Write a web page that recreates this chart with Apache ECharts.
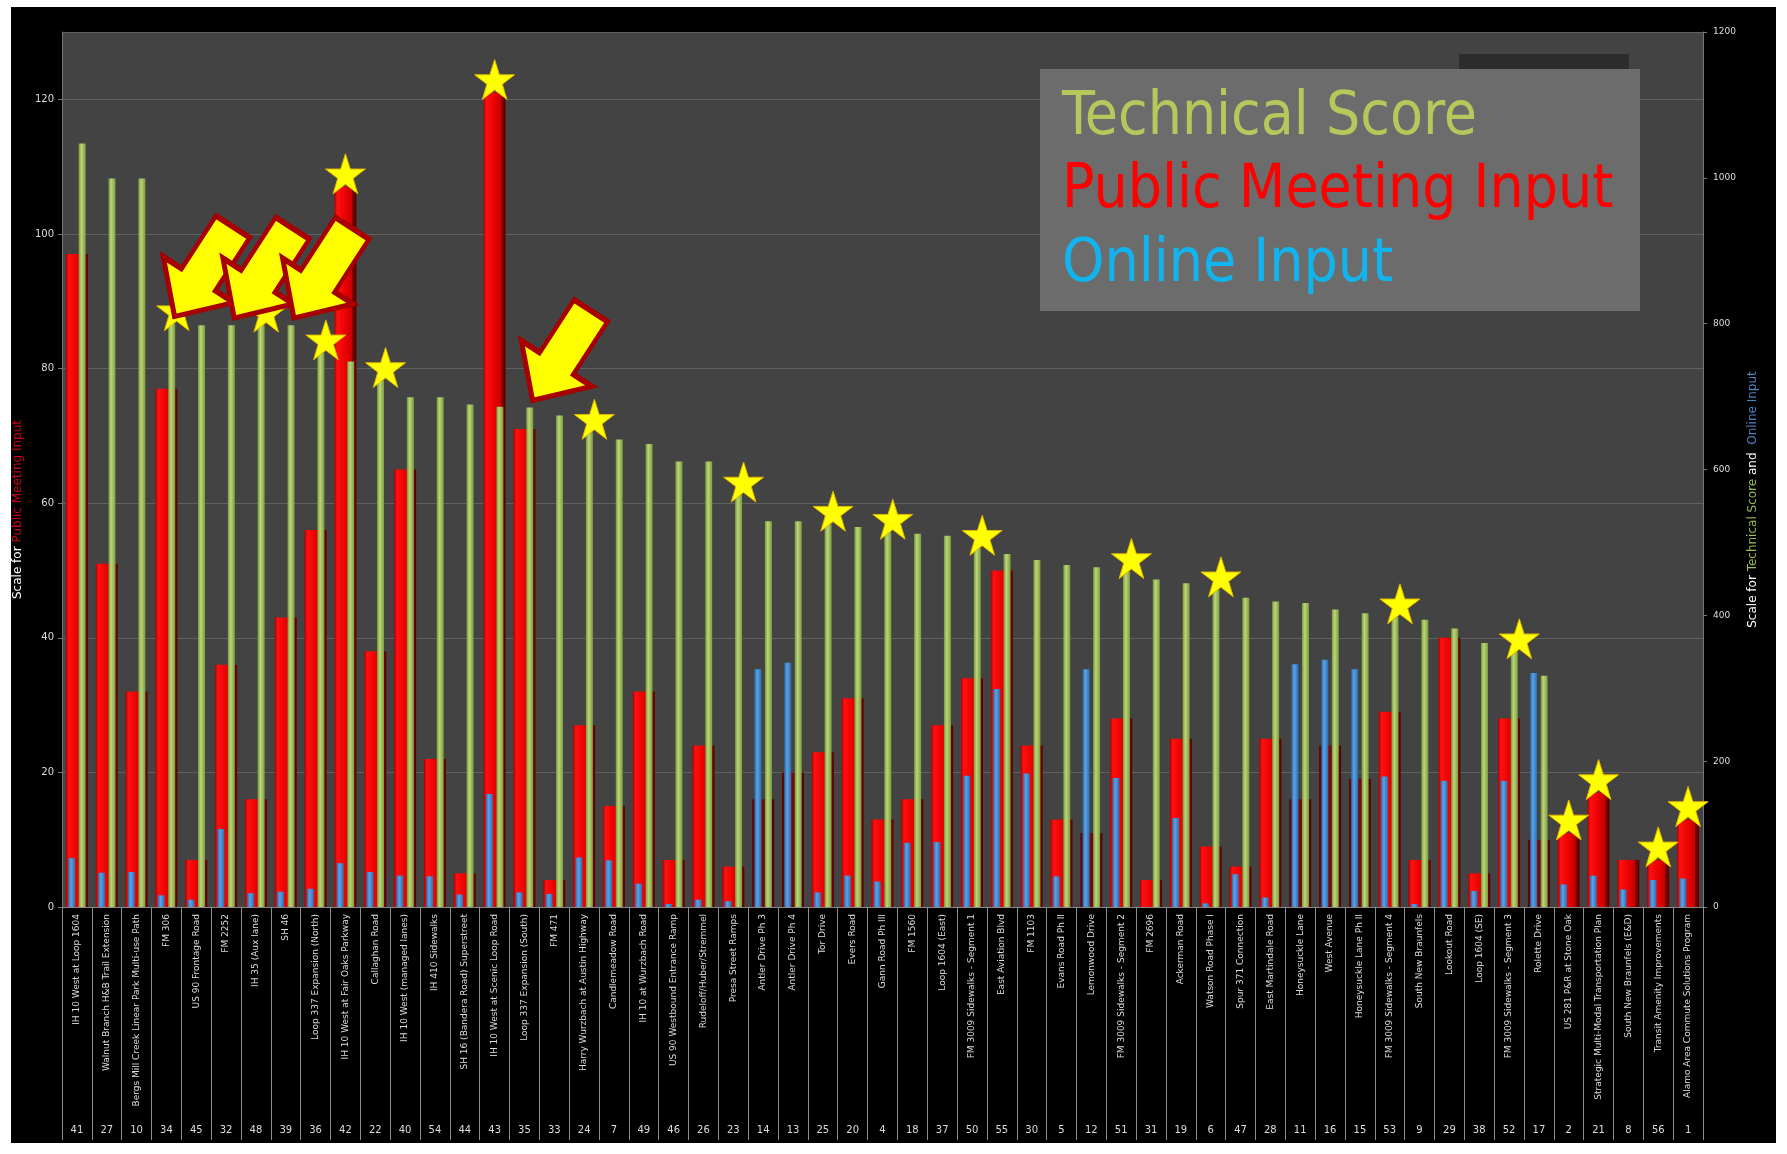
<!DOCTYPE html>
<html>
<head>
<meta charset="utf-8">
<title>Project ranking - technical score and public input</title>
<script src="https://cdn.jsdelivr.net/npm/echarts@6/dist/echarts.min.js"></script>
<style>
  html, body { margin: 0; padding: 0; background: #fff; }
  #chart { width: 1787px; height: 1154px; }
</style>
</head>
<body>
<div id="chart"></div>
<script>
// projects, in the order they are plotted
const categories = [
  'IH 10 West at Loop 1604', 'Walnut Branch H&B Trail Extension', 'Bergs Mill Creek Linear Park Multi-use Path',
  'FM 306', 'US 90 Frontage Road', 'FM 2252', 'IH 35 (Aux lane)', 'SH 46', 'Loop 337 Expansion (North)',
  'IH 10 West at Fair Oaks Parkway', 'Callaghan Road', 'IH 10 West (managed lanes)', 'IH 410 Sidewalks',
  'SH 16 (Bandera Road) Superstreet', 'IH 10 West at Scenic Loop Road', 'Loop 337 Expansion (South)', 'FM 471',
  'Harry Wurzbach at Austin Highway', 'Candlemeadow Road', 'IH 10 at Wurzbach Road', 'US 90 Westbound Entrance Ramp',
  'Rudeloff/Huber/Stremmel', 'Presa Street Ramps', 'Antler Drive Ph 3', 'Antler Drive Ph 4', 'Tor Drive',
  'Evers Road', 'Gann Road Ph III', 'FM 1560', 'Loop 1604 (East)', 'FM 3009 Sidewalks - Segment 1',
  'East Aviation Blvd', 'FM 1103', 'Evans Road Ph II', 'Lemonwood Drive', 'FM 3009 Sidewalks - Segment 2',
  'FM 2696', 'Ackerman Road', 'Watson Road Phase I', 'Spur 371 Connection', 'East Martindale Road',
  'Honeysuckle Lane', 'West Avenue', 'Honeysuckle Lane Ph II', 'FM 3009 Sidewalks - Segment 4',
  'South New Braunfels', 'Lookout Road', 'Loop 1604 (SE)', 'FM 3009 Sidewalks - Segment 3', 'Rolette Drive',
  'US 281 P&R at Stone Oak', 'Strategic Multi-Modal Transportation Plan', 'South New Braunfels (E&D)',
  'Transit Amenity Improvements', 'Alamo Area Commute Solutions Program'
]
const ranks = [
  '41', '27', '10', '34', '45', '32', '48', '39', '36', '42', '22', '40', '54', '44', '43', '35', '33', '24', '7',
  '49', '46', '26', '23', '14', '13', '25', '20', '4', '18', '37', '50', '55', '30', '5', '12', '51', '31', '19',
  '6', '47', '28', '11', '16', '15', '53', '9', '29', '38', '52', '17', '2', '21', '8', '56', '1'
]

// right axis
const technicalScore = [
  1047, 999, 999, 800, 798, 798, 798, 798, 760, 748, 722, 699, 699, 689, 686, 685, 674, 651, 641, 635, 611,
  611, 565, 529, 529, 525, 521, 514, 512, 509, 492, 484, 476, 469, 466, 460, 449, 444, 435, 424, 419, 417,
  408, 403, 398, 394, 382, 362, 350, 317, null, null, null, null, null
]
const onlineInput = [
  67, 47, 48, 16, 10, 107, 19, 21, 25, 60, 48, 43, 42, 17, 155, 20, 18, 68, 64, 32, 4, 10, 8, 326, 335, 20,
  43, 35, 88, 89, 180, 299, 183, 42, 326, 177, 0, 122, 5, 45, 13, 333, 339, 326, 179, 4, 173, 22, 173, 321,
  31, 43, 24, 37, 39
]
// left axis
const publicMeeting = [
  97, 51, 32, 77, 7, 36, 16, 43, 56, 107, 38, 65, 22, 5, 121, 71, 4, 27, 15, 32, 7, 24, 6, null, null, 23,
  31, 13, 16, 27, 34, 50, 24, 13, null, 28, 4, 25, 9, 6, 25, null, null, null, 29, 7, 40, 5, 28, null,
  11, 17, 7, 7, 13
]
// darker, half hidden red bars
const publicMeetingDim = [
  null, null, null, null, null, null, null, null, null, null, null, null, null, null, null, null, null, null,
  null, null, null, null, null, 16, 20, null, null, null, null, null, null, null, null, null, 11, null, null,
  null, null, null, null, 16, 24, 19, null, null, null, null, null, 10, null, null, null, null, null
]

// annotations
const starred = [
  'FM 306', 'IH 35 (Aux lane)', 'Loop 337 Expansion (North)', 'IH 10 West at Fair Oaks Parkway', 'Callaghan Road',
  'IH 10 West at Scenic Loop Road', 'Harry Wurzbach at Austin Highway', 'Presa Street Ramps', 'Tor Drive',
  'Gann Road Ph III', 'FM 3009 Sidewalks - Segment 1', 'FM 3009 Sidewalks - Segment 2', 'Watson Road Phase I',
  'FM 3009 Sidewalks - Segment 4', 'FM 3009 Sidewalks - Segment 3', 'US 281 P&R at Stone Oak',
  'Strategic Multi-Modal Transportation Plan', 'Transit Amenity Improvements', 'Alamo Area Commute Solutions Program'
]
const arrowed = ['FM 306', 'FM 2252', 'SH 46', 'Loop 337 Expansion (South)']

const leftMax = 130
const rightMax = 1200

const STAR = 'path://M50,0 L61.8,35.3 L99,35.3 L68.9,57.1 L80.2,92.7 L50,70.6 L19.8,92.7 L31.1,57.1 L1,35.3 L38.2,35.3 Z'
const ARROW = 'path://M22,0 L62,0 L62,63 L84,63 L42,107 L0,63 L22,63 Z'

function hGrad(stops) {
  return new echarts.graphic.LinearGradient(0, 0, 1, 0, stops.map(s => ({ offset: s[0], color: s[1] })))
}

const starStyle = { color: '#ffff00', borderColor: '#e0b800', borderWidth: 1 }
const redStars = []
const greenMarks = []
starred.forEach(name => {
  const i = categories.indexOf(name)
  const red = publicMeeting[i] || 0
  const green = technicalScore[i] || 0
  if (red / leftMax > green / rightMax) {
    redStars.push({ coord: [i, red], symbol: STAR, symbolSize: 40, symbolOffset: [0, -13], itemStyle: starStyle })
  } else {
    greenMarks.push({ coord: [i, green], symbol: STAR, symbolSize: 40, symbolOffset: [5, -13], itemStyle: starStyle })
  }
})
arrowed.forEach(name => {
  const i = categories.indexOf(name)
  greenMarks.push({
    coord: [i, technicalScore[i]],
    symbol: ARROW,
    symbolSize: [84, 107],
    symbolRotate: -33,
    symbolOffset: [32, -52],
    itemStyle: { color: '#ffff00', borderColor: '#a80000', borderWidth: 5 }
  })
})

const chart = echarts.init(document.getElementById('chart'))
const textColor = '#dddddd'

chart.setOption({
  animation: false,
  backgroundColor: '#ffffff',
  textStyle: { fontFamily: 'DejaVu Sans' },
  grid: {
    left: 62,
    right: 84,
    top: 32,
    bottom: 247,
    show: true,
    backgroundColor: '#434343',
    borderWidth: 0
  },
  graphic: [
    { type: 'rect', z: -10, shape: { x: 11, y: 7, width: 1765, height: 1136 }, style: { fill: '#000' } },
    { type: 'rect', z: 10, shape: { x: 1459, y: 54, width: 170, height: 16 }, style: { fill: '#2c2c2c' } },
    { type: 'rect', z: 10, shape: { x: 1040, y: 69, width: 600, height: 242 }, style: { fill: '#6c6c6c' } },
    {
      type: 'text', z: 11, left: 1062, top: 88,
      style: { text: 'Technical Score', fill: '#b6c75c', font: '60px "DejaVu Sans Condensed", "DejaVu Sans"' }
    },
    {
      type: 'text', z: 11, left: 1062, top: 161,
      style: { text: 'Public Meeting Input', fill: '#ff0000', font: '60px "DejaVu Sans Condensed", "DejaVu Sans"' }
    },
    {
      type: 'text', z: 11, left: 1062, top: 235,
      style: { text: 'Online Input', fill: '#12b4f0', font: '60px "DejaVu Sans Condensed", "DejaVu Sans"' }
    }
  ],
  xAxis: [{
    type: 'category',
    data: categories,
    axisLine: { lineStyle: { color: '#888' } },
    axisTick: { show: true, interval: 0, length: 233, lineStyle: { color: '#8c8c8c' } },
    axisLabel: { interval: 0, rotate: 90, fontSize: 9, color: textColor, margin: 7 }
  }, {
    type: 'category',
    data: ranks,
    position: 'bottom',
    offset: 218,
    axisLine: { show: false },
    axisTick: { show: false },
    axisLabel: { interval: 0, fontSize: 10, color: textColor, margin: 0 }
  }],
  yAxis: [{
    type: 'value',
    min: 0,
    max: leftMax,
    interval: 20,
    name: '{w|Scale for }{r|Public Meeting Input}',
    nameLocation: 'middle',
    nameRotate: 90,
    nameGap: 34,
    nameTextStyle: {
      padding: [0, 80, 0, 0],
      rich: {
        w: { color: '#ffffff', fontSize: 12 },
        r: { color: '#c8001a', fontSize: 12 }
      }
    },
    axisLine: { show: true, lineStyle: { color: '#777' } },
    axisTick: { show: true, length: 4, lineStyle: { color: '#777' } },
    axisLabel: { color: textColor, fontSize: 10, showMaxLabel: false },
    splitLine: { lineStyle: { color: '#606060' } }
  }, {
    type: 'value',
    min: 0,
    max: rightMax,
    interval: 200,
    position: 'right',
    name: '{w|Scale for }{g|Technical Score}{w| and  }{b|Online Input}',
    nameLocation: 'middle',
    nameRotate: 90,
    nameGap: 44,
    nameTextStyle: {
      padding: [0, 60, 0, 0],
      rich: {
        w: { color: '#ffffff', fontSize: 12 },
        g: { color: '#9bbb59', fontSize: 12 },
        b: { color: '#4f81bd', fontSize: 12 }
      }
    },
    axisLine: { show: true, lineStyle: { color: '#777' } },
    axisTick: { show: true, length: 4, lineStyle: { color: '#777' } },
    axisLabel: { color: textColor, fontSize: 9, margin: 10, formatter: v => String(v) },
    splitLine: { show: false }
  }],
  series: [{
    name: 'Public Meeting Input',
    type: 'bar',
    xAxisIndex: 0,
    yAxisIndex: 0,
    barWidth: 22,
    barGap: '-100%',
    data: publicMeeting,
    itemStyle: {
      color: hGrad([[0, '#a80000'], [0.12, '#ff1010'], [0.55, '#e60000'], [0.8, '#c40000'], [0.82, '#7e0000'], [1, '#5c0000']])
    },
    markPoint: { label: { show: false }, data: redStars }
  }, {
    name: 'Public Meeting Input (shaded)',
    type: 'bar',
    xAxisIndex: 0,
    yAxisIndex: 0,
    barWidth: 22,
    barGap: '-100%',
    data: publicMeetingDim,
    itemStyle: { color: hGrad([[0, '#5a0606'], [0.4, '#7a0d0d'], [1, '#4e0404']]) }
  }, {
    name: 'Online Input',
    type: 'bar',
    xAxisIndex: 1,
    yAxisIndex: 1,
    barWidth: 7,
    barGap: '50%',
    data: onlineInput,
    itemStyle: { color: hGrad([[0, '#2a68a8'], [0.4, '#5ba3e6'], [1, '#2d6cae']]) }
  }, {
    name: 'Technical Score',
    type: 'bar',
    xAxisIndex: 1,
    yAxisIndex: 1,
    barWidth: 7,
    barGap: '50%',
    data: technicalScore,
    itemStyle: { color: hGrad([[0, '#77973a'], [0.4, '#bcd57a'], [1, '#7c9d3c']]) },
    markPoint: { label: { show: false }, data: greenMarks }
  }]
})
</script>
</body>
</html>
